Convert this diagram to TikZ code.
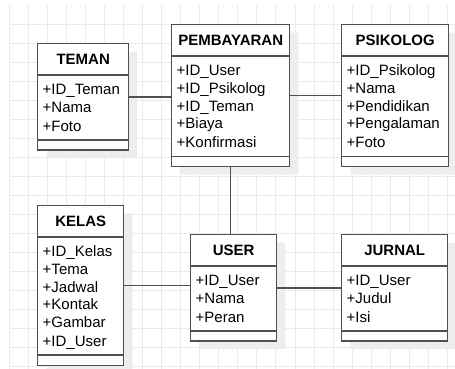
\documentclass[tikz,border=0pt]{standalone}
\usepackage{fontspec}
\setmainfont{Liberation Sans}
\usetikzlibrary{shapes.multipart,shadows}

\definecolor{edgegray}{HTML}{505050}
\definecolor{gridgray}{HTML}{EAEAEA}
\definecolor{shadegray}{HTML}{EDEDED}

\newcommand{\entname}[1]{\hspace*{\fill}\textbf{\rule[-3.92pt]{0pt}{15.9pt}#1}\hspace*{\fill}\null}
\newcommand{\row}[1]{\lineskip=0pt\baselineskip=0pt\rule[-2.45pt]{0pt}{13.28pt}#1}

\begin{document}
\begin{tikzpicture}[
	x=0.75pt, y=-0.75pt,
	entity/.style={
		rectangle split, rectangle split parts=3,
		draw=edgegray, line width=1.1pt, fill=white,
		inner xsep=3.75pt, inner ysep=3.3pt,
		rectangle split empty part height=1.6pt,
		rectangle split empty part depth=0pt,
		align=left, anchor=north west,
		font=\fontsize{11.25pt}{13.125pt}\selectfont,
		drop shadow={shadow xshift=6.5pt, shadow yshift=-6pt, fill=shadegray, opacity=1}
	},
	link/.style={draw=edgegray, line width=1.1pt},
	gridline/.style={draw=gridgray, line width=0.75pt}
]

\useasboundingbox (0,0) rectangle (455,369);

% background grid
\foreach \i in {0,...,23}
	\draw[gridline] (9.3+19.05*\i, 5) -- (9.3+19.05*\i, 369);
\foreach \j in {0,...,18}
	\draw[gridline] (9.3, 24+19.05*\j) -- (455, 24+19.05*\j);

\node[entity, text width=60.75pt] (teman) at (37,43)
	{\entname{TEMAN}\nodepart{second}\row{+ID\_Teman}\\\row{+Nama}\\\row{+Foto}\nodepart{third}};
\node[entity, text width=81pt] (pembayaran) at (171,24)
	{\entname{PEMBAYARAN}\nodepart{second}\row{+ID\_User}\\\row{+ID\_Psikolog}\\\row{+ID\_Teman}\\\row{+Biaya}\\\row{+Konfirmasi}\nodepart{third}};
\node[entity, text width=72.75pt] (psikolog) at (341,24)
	{\entname{PSIKOLOG}\nodepart{second}\row{+ID\_Psikolog}\\\row{+Nama}\\\row{+Pendidikan}\\\row{+Pengalaman}\\\row{+Foto}\nodepart{third}};
\node[entity, text width=57pt] (kelas) at (37,205)
	{\entname{KELAS}\nodepart{second}\row{+ID\_Kelas}\\\row{+Tema}\\\row{+Jadwal}\\\row{+Kontak}\\\row{+Gambar}\\\row{+ID\_User}\nodepart{third}};
\node[entity, text width=57pt] (user) at (190,234)
	{\entname{USER}\nodepart{second}\row{+ID\_User}\\\row{+Nama}\\\row{+Peran}\nodepart{third}};
\node[entity, text width=72pt] (jurnal) at (341,234)
	{\entname{JURNAL}\nodepart{second}\row{+ID\_User}\\\row{+Judul}\\\row{+Isi}\nodepart{third}};

\draw[link] (teman.east) -- (teman.east -| pembayaran.west);
\draw[link] (pembayaran.east) -- (psikolog.west);
\draw[link] (pembayaran.south) -- (pembayaran.south |- user.north);
\draw[link] (kelas.east) -- (kelas.east -| user.west);
\draw[link] (user.east) -- (jurnal.west);

\end{tikzpicture}
\end{document}
